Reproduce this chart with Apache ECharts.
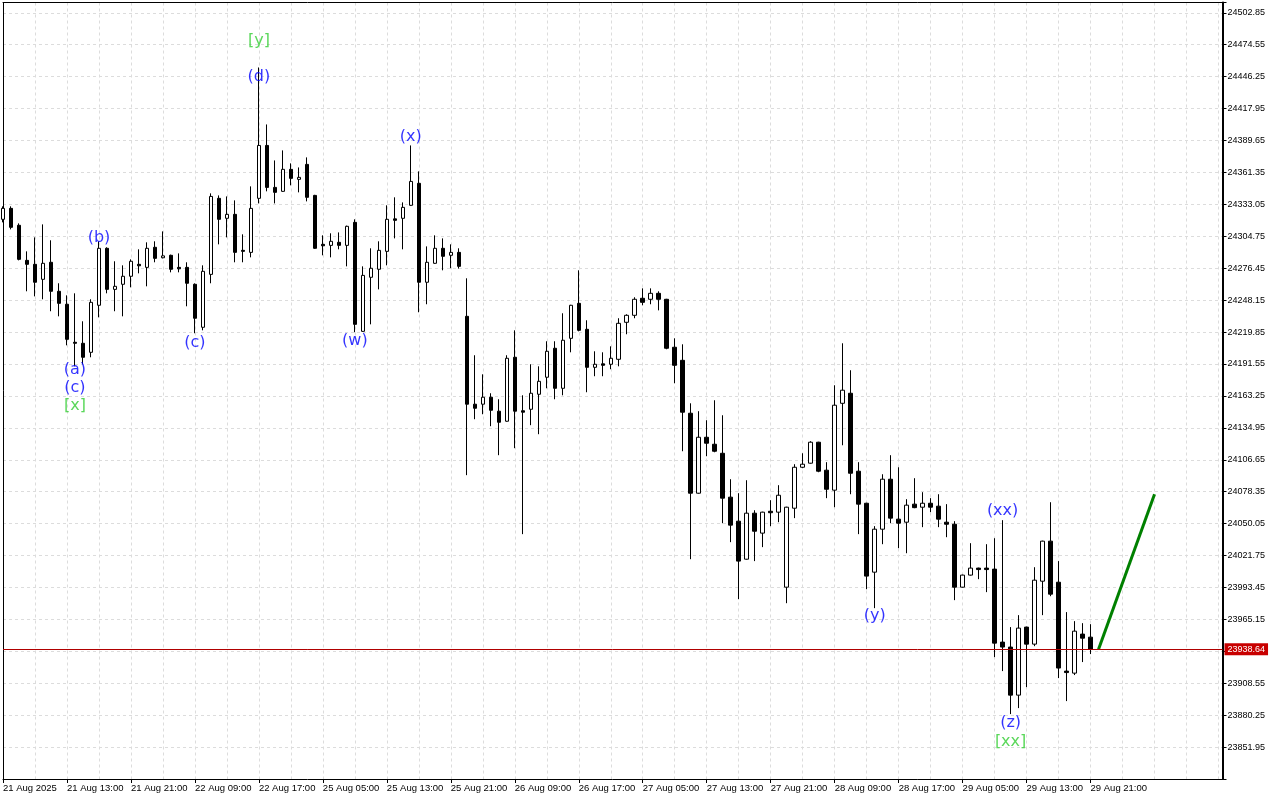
<!DOCTYPE html>
<html><head><meta charset="utf-8">
<script src="https://cdn.jsdelivr.net/npm/echarts@6/dist/echarts.min.js"></script>
<style>html,body{margin:0;padding:0;background:#fff}#chart{width:1280px;height:800px}</style>
</head><body><div id="chart"></div>
<script>
// ---- data ----
const timeLabels = ["21 Aug 2025","21 Aug 13:00","21 Aug 21:00","22 Aug 09:00","22 Aug 17:00","25 Aug 05:00","25 Aug 13:00","25 Aug 21:00","26 Aug 09:00","26 Aug 17:00","27 Aug 05:00","27 Aug 13:00","27 Aug 21:00","28 Aug 09:00","28 Aug 17:00","29 Aug 05:00","29 Aug 13:00","29 Aug 21:00"];
const barsPerLabel = 8;

const opens = [24319.8,24329.5,24314.5,24283.4,24279.9,24266.6,24281.7,24256.0,24244.5,24210.8,
24209.9,24201.9,24243.6,24294.1,24257.7,24262.2,24269.3,24279.9,24277.2,24295.0,
24285.7,24287.9,24277.2,24277.2,24262.2,24224.1,24271.0,24338.4,24320.7,24324.2,
24292.3,24290.5,24338.4,24385.3,24348.1,24344.6,24364.1,24355.2,24368.5,24341.0,
24297.6,24296.7,24299.4,24296.7,24317.1,24220.5,24268.4,24275.5,24291.4,24320.2,
24320.7,24332.2,24351.7,24264.0,24280.8,24294.1,24287.9,24290.5,24233.8,24155.9,
24155.9,24162.1,24149.7,24140.8,24197.5,24150.1,24151.4,24164.7,24179.8,24205.5,
24170.0,24214.3,24245.3,24222.3,24188.6,24191.7,24191.3,24195.7,24228.5,24234.7,
24249.8,24248.9,24254.2,24248.9,24206.4,24194.8,24147.9,24077.0,24126.6,24120.4,
24112.4,24073.5,24052.2,24018.5,24059.3,24041.6,24061.0,24060.2,23993.7,24063.7,
24100.0,24103.6,24122.2,24097.4,24079.7,24156.7,24165.6,24096.5,24068.1,24007.0,
24045.1,24089.4,24054.0,24051.3,24067.3,24064.6,24068.1,24065.5,24051.3,24049.5,
23993.7,24004.4,24010.6,24010.6,24009.7,23945.0,23940.6,23898.0,23958.3,23943.2,
23999.0,24034.5,23998.1,23919.3,23917.5,23952.1,23949.4];
const closes = [24329.5,24312.7,24284.3,24279.9,24264.0,24280.8,24256.0,24245.3,24213.4,24209.9,
24197.5,24246.2,24294.1,24257.7,24260.4,24269.3,24282.6,24278.6,24294.1,24285.2,
24287.4,24275.5,24275.9,24263.1,24232.1,24273.7,24340.1,24319.8,24324.2,24290.5,
24291.4,24329.5,24385.3,24348.1,24343.7,24364.1,24356.1,24357.0,24339.3,24294.1,
24296.3,24300.3,24296.7,24313.6,24226.7,24270.1,24276.4,24292.3,24319.8,24318.9,
24330.4,24353.4,24264.0,24281.7,24294.1,24287.0,24290.5,24278.1,24155.9,24152.3,
24162.1,24150.5,24139.9,24196.6,24149.7,24148.8,24165.6,24176.2,24202.8,24170.0,
24212.6,24243.6,24221.4,24188.6,24191.3,24190.4,24196.6,24227.6,24234.7,24248.9,
24246.2,24254.2,24248.9,24205.5,24190.4,24148.8,24077.0,24126.6,24121.3,24114.2,
24072.6,24048.7,24016.8,24059.3,24043.3,24060.2,24059.7,24075.2,24064.6,24100.0,
24102.7,24122.2,24096.5,24080.5,24155.0,24168.3,24094.7,24067.3,24003.5,24045.1,
24089.4,24054.9,24050.4,24066.4,24064.2,24068.1,24064.6,24054.0,24049.5,23993.7,
24004.4,24010.6,24009.3,24009.3,23944.1,23940.6,23898.0,23957.4,23943.2,23999.9,
24034.5,23987.5,23922.0,23918.0,23954.7,23948.5,23938.64];
const lows = [24317.1,24310.9,24283.4,24256.0,24251.5,24248.9,24238.3,24233.8,24208.1,24189.5,
24191.3,24197.5,24232.9,24254.2,24238.3,24233.8,24259.5,24271.9,24260.4,24281.7,
24285.2,24272.8,24272.8,24242.7,24218.8,24221.4,24263.1,24297.6,24303.8,24281.7,
24281.7,24286.1,24333.9,24344.6,24333.9,24344.2,24349.9,24343.7,24335.7,24293.6,
24287.9,24286.1,24293.2,24278.1,24219.7,24220.0,24226.7,24257.7,24279.0,24302.9,
24293.2,24331.8,24237.4,24244.5,24280.4,24274.6,24276.4,24276.1,24093.0,24142.6,
24147.0,24136.4,24110.7,24140.4,24116.9,24040.7,24137.3,24129.3,24170.0,24160.3,
24163.8,24201.9,24220.5,24166.5,24180.7,24180.7,24186.9,24189.5,24217.9,24232.1,
24243.6,24244.5,24239.1,24204.6,24174.5,24114.2,24018.5,24076.6,24109.8,24113.3,
24050.4,24033.6,23983.1,24018.1,24016.8,24029.2,24047.8,24051.3,23979.5,24054.9,
24099.2,24103.2,24095.6,24072.6,24064.6,24119.5,24076.1,24040.7,23991.9,23975.1,
24031.8,24050.4,24028.3,24023.8,24063.7,24046.9,24060.2,24046.9,24038.0,23982.2,
23993.3,24004.0,24000.8,23989.3,23931.7,23919.3,23881.2,23886.5,23905.1,23941.4,
23968.9,23985.7,23913.1,23892.7,23915.8,23927.3,23934.4];
const highs = [24331.3,24331.3,24316.2,24291.4,24303.8,24315.3,24301.2,24263.1,24252.4,24254.2,
24229.4,24248.9,24300.3,24295.0,24282.6,24279.0,24284.3,24293.2,24299.4,24300.3,
24309.1,24288.5,24289.6,24281.7,24263.0,24279.0,24342.8,24341.0,24340.1,24336.6,
24306.5,24349.0,24454.4,24403.9,24372.0,24380.9,24369.4,24365.8,24374.7,24341.5,
24305.6,24307.4,24308.2,24314.2,24319.8,24278.1,24294.1,24300.3,24332.2,24339.3,
24334.8,24385.3,24362.3,24295.8,24305.6,24302.9,24297.6,24294.1,24267.5,24199.3,
24182.4,24165.6,24160.3,24199.3,24221.4,24163.8,24191.3,24189.5,24211.7,24211.7,
24236.5,24244.0,24274.6,24230.3,24202.8,24201.9,24207.2,24232.1,24235.6,24250.7,
24258.6,24258.6,24256.0,24249.3,24214.3,24209.0,24156.7,24149.7,24141.7,24159.4,
24146.1,24089.4,24077.0,24088.5,24061.9,24060.6,24070.8,24084.1,24065.0,24102.7,
24112.4,24123.1,24122.6,24104.5,24172.7,24209.9,24186.0,24104.5,24068.5,24047.8,
24093.8,24110.7,24100.0,24071.7,24090.3,24077.9,24072.6,24076.1,24067.3,24052.2,
24004.8,24032.7,24011.0,24031.8,24037.1,24053.1,23958.3,23968.9,23958.7,24011.4,
24034.9,24069.0,24016.8,23971.6,23963.6,23961.8,23960.9];

const lastPrice = 23938.64;
const forecastIdx = [137, 144];
const forecastPrice = [23938.64, 24076.1];

const waveText  = ['(a)','(c)','(b)','(c)','(d)','(w)','(x)','(y)','(xx)','(z)'];
const waveIdx   = [9, 9, 12, 24, 32, 44, 51, 109, 125, 126];
const wavePrice = [24186.0, 24170.0, 24303.8, 24209.9, 24446.5, 24211.7, 24393.3, 23968.0, 24061.0, 23873.2];

const degreeText  = ['[x]','[y]','[xx]'];
const degreeIdx   = [9, 32, 126];
const degreePrice = [24154.1, 24478.4, 23856.4];

const yTickLabels = ['24502.85','24474.55','24446.25','24417.95','24389.65','24361.35','24333.05','24304.75','24276.45','24248.15','24219.85','24191.55','24163.25','24134.95','24106.65','24078.35','24050.05','24021.75','23993.45','23965.15','23908.55','23880.25','23851.95'];
const yMin = 23823.65, yMax = 24512.0, yStep = 28.3;
const xMax = 152.5;

// ---- chart ----
const chart = echarts.init(document.getElementById('chart'), null, {renderer:'canvas'});
const candleData = opens.map((o, i) => [i, o, closes[i], lows[i], highs[i]]);
const labelFont = 'Liberation Sans';
const gridDash = {color:'#dcdcdc', type:[3,3], width:1};
const blackLine = {color:'#000', width:1};

const option = {
  animation: false,
  backgroundColor: '#ffffff',
  grid: {left: 2.5, right: 57.5, top: 2.5, bottom: 21, show: false},
  xAxis: [
    {
      type: 'value', min: 0, max: xMax, interval: barsPerLabel, position: 'bottom',
      axisLine: {show: true, onZero: false, lineStyle: blackLine},
      axisTick: {show: true, length: 4, lineStyle: {color: '#000'}, customValues: timeLabels.map((_, i) => i * barsPerLabel)},
      axisLabel: {show: true, align: 'left', margin: 4, fontFamily: labelFont, fontSize: 9.5, color: '#000',
        customValues: timeLabels.map((_, i) => i * barsPerLabel),
        formatter: v => { const k = Math.round(v / barsPerLabel); return (Math.abs(v - k * barsPerLabel) < 1e-6 && k < timeLabels.length) ? timeLabels[k] : ''; }},
      splitLine: {show: false}
    },
    {
      type: 'value', min: 0, max: xMax, interval: barsPerLabel / 2, position: 'top',
      axisLine: {show: true, onZero: false, lineStyle: blackLine}, axisTick: {show: false}, axisLabel: {show: false},
      splitLine: {show: true, lineStyle: gridDash}
    }
  ],
  yAxis: [
    {
      type: 'value', position: 'right', min: yMin, max: yMax, interval: yStep,
      axisLine: {show: true, onZero: false, lineStyle: {color: '#000', width: 2}},
      axisTick: {show: true, length: 4, lineStyle: {color: '#000'}},
      axisLabel: {show: true, margin: 5, fontFamily: labelFont, fontSize: 9, color: '#000',
        customValues: yTickLabels.map(Number),
        formatter: v => { const s = v.toFixed(2); return yTickLabels.indexOf(s) >= 0 ? s : ''; }},
      splitLine: {show: true, lineStyle: gridDash}
    },
    {
      type: 'value', position: 'left', min: yMin, max: yMax,
      axisLine: {show: true, onZero: false, lineStyle: blackLine},
      axisTick: {show: false}, axisLabel: {show: false}, splitLine: {show: false}
    }
  ],
  series: [
    {
      type: 'candlestick', xAxisIndex: 0, yAxisIndex: 0,
      data: candleData, barWidth: 4,
      itemStyle: {color: '#ffffff', color0: '#000000', borderColor: '#000000', borderColor0: '#000000', borderWidth: 1},
      markLine: {
        silent: true, symbol: 'none', animation: false,
        lineStyle: {color: '#b00000', width: 1, type: 'solid'},
        label: {show: true, position: 'end', distance: 2, formatter: lastPrice.toFixed(2),
          backgroundColor: '#c80000', color: '#ffffff', fontFamily: labelFont, fontSize: 9, padding: [2, 3, 1, 3]},
        data: [{yAxis: lastPrice}]
      }
    },
    {
      type: 'line', xAxisIndex: 0, yAxisIndex: 0, symbol: 'none', silent: true,
      data: forecastIdx.map((x, i) => [x, forecastPrice[i]]),
      lineStyle: {color: '#008000', width: 3}
    },
    {
      type: 'scatter', xAxisIndex: 0, yAxisIndex: 0, symbolSize: 1, silent: true,
      itemStyle: {color: 'rgba(0,0,0,0)'},
      data: waveIdx.map((x, i) => ({value: [x, wavePrice[i]], name: waveText[i]})),
      label: {show: true, position: 'inside', formatter: p => p.name, color: '#0000ff', fontFamily: 'DejaVu Sans', fontSize: 16}
    },
    {
      type: 'scatter', xAxisIndex: 0, yAxisIndex: 0, symbolSize: 1, silent: true,
      itemStyle: {color: 'rgba(0,0,0,0)'},
      data: degreeIdx.map((x, i) => ({value: [x, degreePrice[i]], name: degreeText[i]})),
      label: {show: true, position: 'inside', formatter: p => p.name, color: '#32cd32', fontFamily: 'DejaVu Sans', fontSize: 16}
    }
  ]
};
chart.setOption(option);
</script>
</body></html>
